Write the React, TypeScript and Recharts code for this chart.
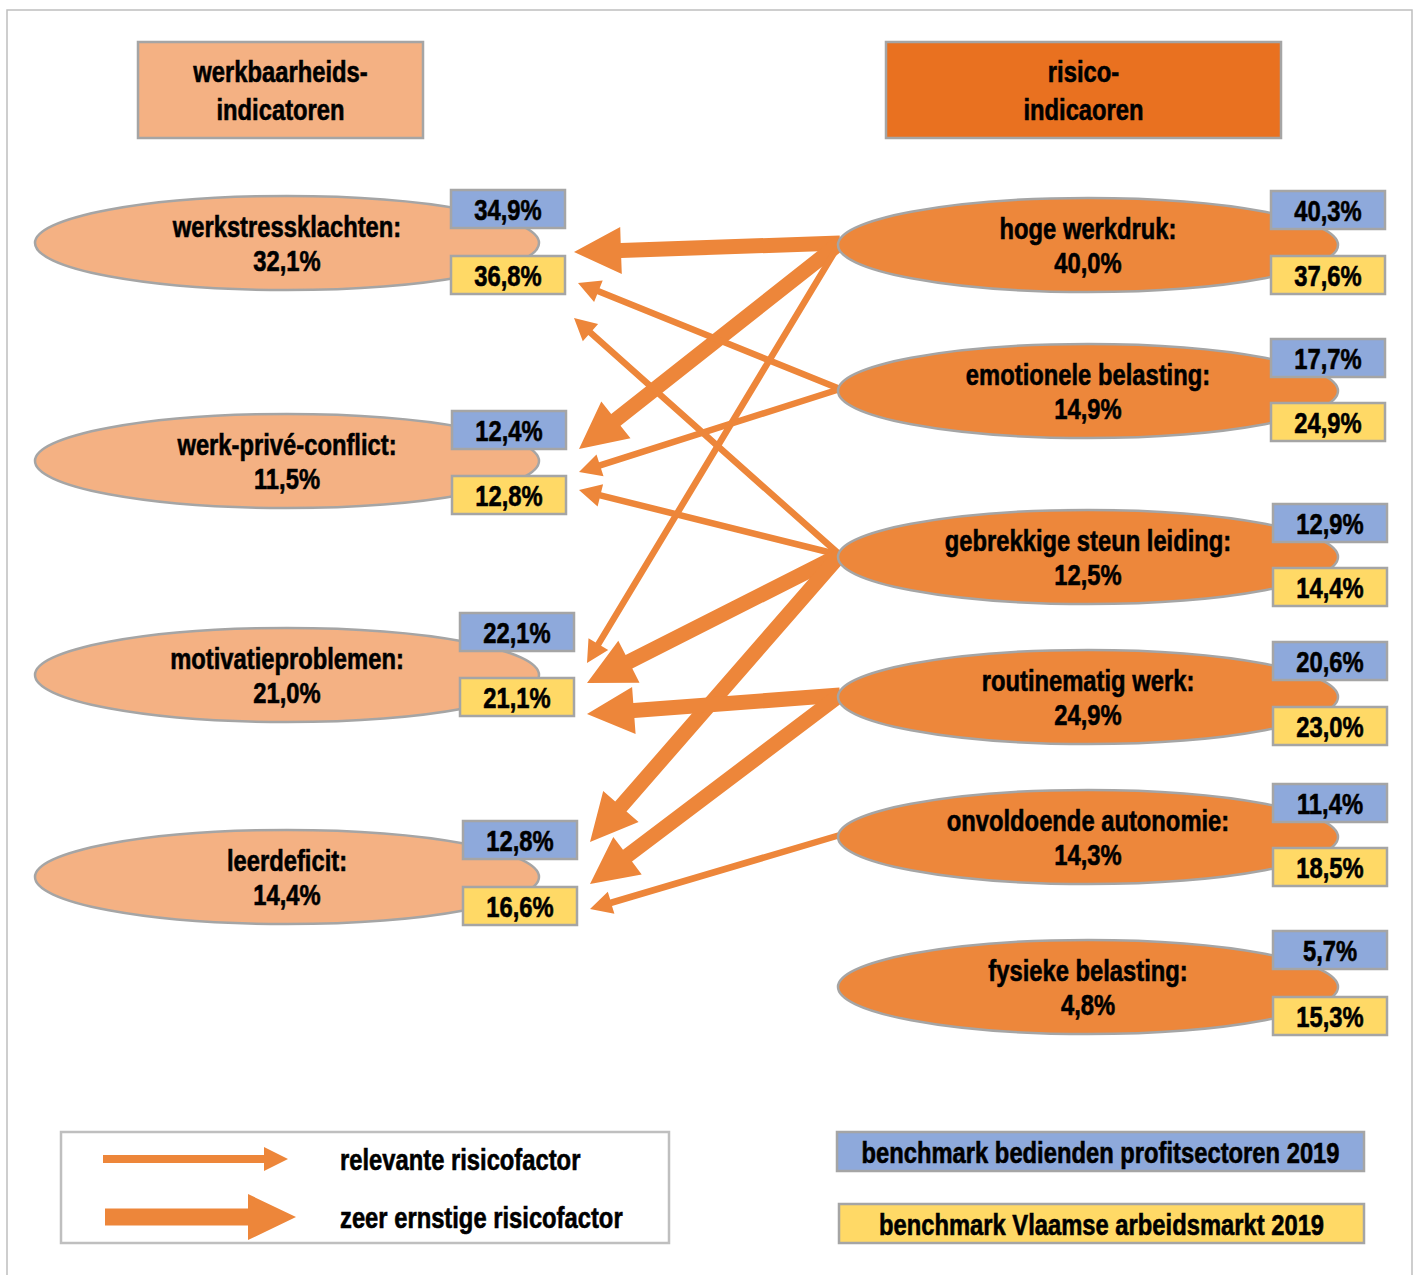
import React from 'react';
import { ComposedChart, XAxis, YAxis, Scatter, Line, ReferenceArea } from 'recharts';

const W = 1416;
const H = 1275;
const FONT = '"Liberation Sans", Arial, sans-serif';

// werkbaarheidsindicatoren (links)
const indicatorNames = ['werkstressklachten:', 'werk-privé-conflict:', 'motivatieproblemen:', 'leerdeficit:'];
const indicatorValues = [32.1, 11.5, 21.0, 14.4];
const indicatorProfit = [34.9, 12.4, 22.1, 12.8];
const indicatorVlaams = [36.8, 12.8, 21.1, 16.6];

// risico-indicatoren (rechts)
const riskNames = ['hoge werkdruk:', 'emotionele belasting:', 'gebrekkige steun leiding:', 'routinematig werk:', 'onvoldoende autonomie:', 'fysieke belasting:'];
const riskValues = [40.0, 14.9, 12.5, 24.9, 14.3, 4.8];
const riskProfit = [40.3, 17.7, 12.9, 20.6, 11.4, 5.7];
const riskVlaams = [37.6, 24.9, 14.4, 23.0, 18.5, 15.3];

// pijlen: risico -> indicator
const linkFrom = [0, 0, 0, 1, 1, 2, 2, 2, 2, 3, 3, 4];
const linkTo = [0, 1, 2, 0, 1, 0, 1, 2, 3, 2, 3, 3];
const linkSevere = [true, true, false, false, false, false, false, true, true, true, true, false];

const headerLabels = [['werkbaarheids-', 'indicatoren'], ['risico-', 'indicaoren']];
const legendLabels = ['relevante risicofactor', 'zeer ernstige risicofactor'];
const benchmarkLabels = ['benchmark bedienden profitsectoren 2019', 'benchmark Vlaamse arbeidsmarkt 2019'];

// layout (pixels of the drawing space)
const LEFT = { cx: 287, rx: 252, ry: 47, rows: [243, 461, 675, 877], boxX: [451, 452, 460, 463], blueDy: [-53, -50, -62, -56], yellowDy: [13, 15, 3, 10] };
const RIGHT = { cx: 1088, rx: 250, ry: 47, rows: [245, 391, 557, 697, 837, 987], boxX: [1271, 1271, 1273, 1273, 1273, 1273], blueDy: [-54, -52, -53, -55, -53, -56], yellowDy: [11, 12, 11, 10, 11, 10] };
const BOX_W = 114;
const BOX_H = 38;
const tipDy = [9, -12, -12, 40, 11, 75, 29, 8, -35, 39, 7, 32];
const tipDx = [-4, 0, 0, 0, 0, -4, 0, 0, 0, 0, 0, 0];
const HEADERS = [{ x: 280.5, y: 90, w: 285, h: 96 }, { x: 1083.5, y: 90, w: 395, h: 96 }];
const BENCH = [{ x: 1100.5, y: 1151.5, w: 527, h: 39 }, { x: 1101.5, y: 1223.5, w: 525, h: 39 }];
const LEGEND_ARROWS = [{ x1: 103, x2: 288, y: 1159 }, { x1: 105, x2: 296, y: 1217 }];

const C_LIGHT = '#F4B183';
const C_ORANGE = '#ED873B';
const C_DARK = '#E97120';
const C_BLUE = '#8EA9DB';
const C_YELLOW = '#FFD966';
const C_BORDER = '#A5A5A5';
const C_ARROW = '#ED863A';

const THIN = { w: 6.5, L: 22, H: 23 };
const THICK = { w: 15, L: 47, H: 47 };
const LEG_THIN = { w: 8, L: 24, H: 24 };
const LEG_THICK = { w: 17, L: 48, H: 46 };

const fmt = (v: number) => v.toFixed(1).replace('.', ',') + '%';

// Arial Narrow look: bold sans, horizontally squeezed
const NText = ({ x, y, anchor = 'middle', children }: { x: number; y: number; anchor?: 'start' | 'middle' | 'end'; children: React.ReactNode }) => (
  <text
    transform={`translate(${x},${y}) scale(0.82,1)`}
    x={0}
    y={0}
    textAnchor={anchor}
    fontFamily={FONT}
    fontWeight="bold"
    fontSize={29}
    fill="#000"
    stroke="#000"
    strokeWidth={0.6}
  >
    {children}
  </text>
);

const leftNodes = indicatorNames.map((name, i) => ({ x: LEFT.cx, y: LEFT.rows[i], name, value: indicatorValues[i], profit: indicatorProfit[i], vlaams: indicatorVlaams[i], side: 0, idx: i }));
const rightNodes = riskNames.map((name, i) => ({ x: RIGHT.cx, y: RIGHT.rows[i], name, value: riskValues[i], profit: riskProfit[i], vlaams: riskVlaams[i], side: 1, idx: i }));

const arrows = linkFrom.map((f, i) => {
  const t = linkTo[i];
  return [
    { x: RIGHT.cx - RIGHT.rx + 2, y: RIGHT.rows[f] - 2 },
    { x: LEFT.boxX[t] + BOX_W + 13 + tipDx[i], y: LEFT.rows[t] + tipDy[i] },
  ];
});

const arrowPoints = (tx: number, ty: number, px: number, py: number, s: { w: number; L: number; H: number }) => {
  const dx = px - tx;
  const dy = py - ty;
  const len = Math.sqrt(dx * dx + dy * dy) || 1;
  const ux = dx / len;
  const uy = dy / len;
  const nx = -uy;
  const ny = ux;
  const bx = px - ux * s.L;
  const by = py - uy * s.L;
  const pts = [
    [tx + (nx * s.w) / 2, ty + (ny * s.w) / 2],
    [bx + (nx * s.w) / 2, by + (ny * s.w) / 2],
    [bx + (nx * s.H) / 2, by + (ny * s.H) / 2],
    [px, py],
    [bx - (nx * s.H) / 2, by - (ny * s.H) / 2],
    [bx - (nx * s.w) / 2, by - (ny * s.w) / 2],
    [tx - (nx * s.w) / 2, ty - (ny * s.w) / 2],
  ];
  return pts.map((p) => `${p[0].toFixed(1)},${p[1].toFixed(1)}`).join(' ');
};

const makeArrowDot = (s: { w: number; L: number; H: number }, tail: { x: number; y: number }) => (props: any) => {
  const { index, cx, cy, points } = props;
  if (index !== 1) return <g key={`a-${index}`} />;
  let tx = cx + (tail.x - props.payload.x);
  let ty = cy + (tail.y - props.payload.y);
  if (points && points[0]) {
    tx = points[0].x;
    ty = points[0].y;
  }
  return <polygon key={`a-${index}`} points={arrowPoints(tx, ty, cx, cy, s)} fill={C_ARROW} />;
};

const NodeShape = (props: any) => {
  const { cx, cy, payload } = props;
  const L = payload.side === 0 ? LEFT : RIGHT;
  const i = payload.idx;
  const bx = cx + (L.boxX[i] - L.cx);
  return (
    <g>
      <ellipse cx={cx} cy={cy} rx={L.rx} ry={L.ry} fill={payload.side === 0 ? C_LIGHT : C_ORANGE} stroke={C_BORDER} strokeWidth={2.5} />
      <NText x={cx} y={cy - 6.5}>{payload.name}</NText>
      <NText x={cx} y={cy + 28}>{fmt(payload.value)}</NText>
      <rect x={bx} y={cy + L.blueDy[i]} width={BOX_W} height={BOX_H} fill={C_BLUE} stroke={C_BORDER} strokeWidth={2.5} />
      <NText x={bx + BOX_W / 2} y={cy + L.blueDy[i] + BOX_H / 2 + 10.5}>{fmt(payload.profit)}</NText>
      <rect x={bx} y={cy + L.yellowDy[i]} width={BOX_W} height={BOX_H} fill={C_YELLOW} stroke={C_BORDER} strokeWidth={2.5} />
      <NText x={bx + BOX_W / 2} y={cy + L.yellowDy[i] + BOX_H / 2 + 10.5}>{fmt(payload.vlaams)}</NText>
    </g>
  );
};

const headerData = headerLabels.map((lines, i) => ({ x: HEADERS[i].x, y: HEADERS[i].y, lines, idx: i }));
const HeaderShape = (props: any) => {
  const { cx, cy, payload } = props;
  const b = HEADERS[payload.idx];
  return (
    <g>
      <rect x={cx - b.w / 2} y={cy - b.h / 2} width={b.w} height={b.h} fill={payload.idx === 0 ? C_LIGHT : C_DARK} stroke={C_BORDER} strokeWidth={2.5} />
      <NText x={cx} y={cy - 8}>{payload.lines[0]}</NText>
      <NText x={cx} y={cy + 30}>{payload.lines[1]}</NText>
    </g>
  );
};

const benchData = benchmarkLabels.map((label, i) => ({ x: BENCH[i].x, y: BENCH[i].y, label, idx: i }));
const BenchShape = (props: any) => {
  const { cx, cy, payload } = props;
  const b = BENCH[payload.idx];
  return (
    <g>
      <rect x={cx - b.w / 2} y={cy - b.h / 2} width={b.w} height={b.h} fill={payload.idx === 0 ? C_BLUE : C_YELLOW} stroke={C_BORDER} strokeWidth={2.5} />
      <NText x={cx} y={cy + 11}>{payload.label}</NText>
    </g>
  );
};

const legendTextData = legendLabels.map((label, i) => ({ x: 340, y: LEGEND_ARROWS[i].y, label }));
const LegendTextShape = (props: any) => {
  const { cx, cy, payload } = props;
  return <NText x={cx} y={cy + 11} anchor="start">{payload.label}</NText>;
};

export default function App() {
  return (
    <div style={{ position: 'absolute', left: 0, top: 0, width: W, height: H, background: '#fff' }}>
      <ComposedChart width={W} height={H} margin={{ top: 0, right: 0, bottom: 0, left: 0 }}>
        <XAxis type="number" dataKey="x" domain={[0, W]} hide allowDataOverflow />
        <YAxis type="number" dataKey="y" domain={[0, H]} reversed hide allowDataOverflow />
        <ReferenceArea x1={7} x2={1412} y1={10} y2={1300} ifOverflow="visible" fill="#fff" fillOpacity={0} stroke="#BFBFBF" strokeWidth={1.5} />
        <ReferenceArea x1={61} x2={669} y1={1132} y2={1243} ifOverflow="visible" fill="#fff" stroke="#BFBFBF" strokeWidth={2.5} />
        {arrows.map((seg, i) => (
          <Line
            key={`arrow-${i}`}
            data={seg}
            dataKey="y"
            stroke="none"
            legendType="none"
            activeDot={false}
            isAnimationActive={false}
            dot={makeArrowDot(linkSevere[i] ? THICK : THIN, seg[0])}
          />
        ))}
        {LEGEND_ARROWS.map((a, i) => {
          const seg = [{ x: a.x1, y: a.y }, { x: a.x2, y: a.y }];
          return (
            <Line
              key={`leg-${i}`}
              data={seg}
              dataKey="y"
              stroke="none"
              legendType="none"
              activeDot={false}
              isAnimationActive={false}
              dot={makeArrowDot(i === 0 ? LEG_THIN : LEG_THICK, seg[0])}
            />
          );
        })}
        <Scatter data={headerData} dataKey="y" shape={HeaderShape} isAnimationActive={false} />
        <Scatter data={leftNodes} dataKey="y" shape={NodeShape} isAnimationActive={false} />
        <Scatter data={rightNodes} dataKey="y" shape={NodeShape} isAnimationActive={false} />
        <Scatter data={benchData} dataKey="y" shape={BenchShape} isAnimationActive={false} />
        <Scatter data={legendTextData} dataKey="y" shape={LegendTextShape} isAnimationActive={false} />
      </ComposedChart>
    </div>
  );
}
